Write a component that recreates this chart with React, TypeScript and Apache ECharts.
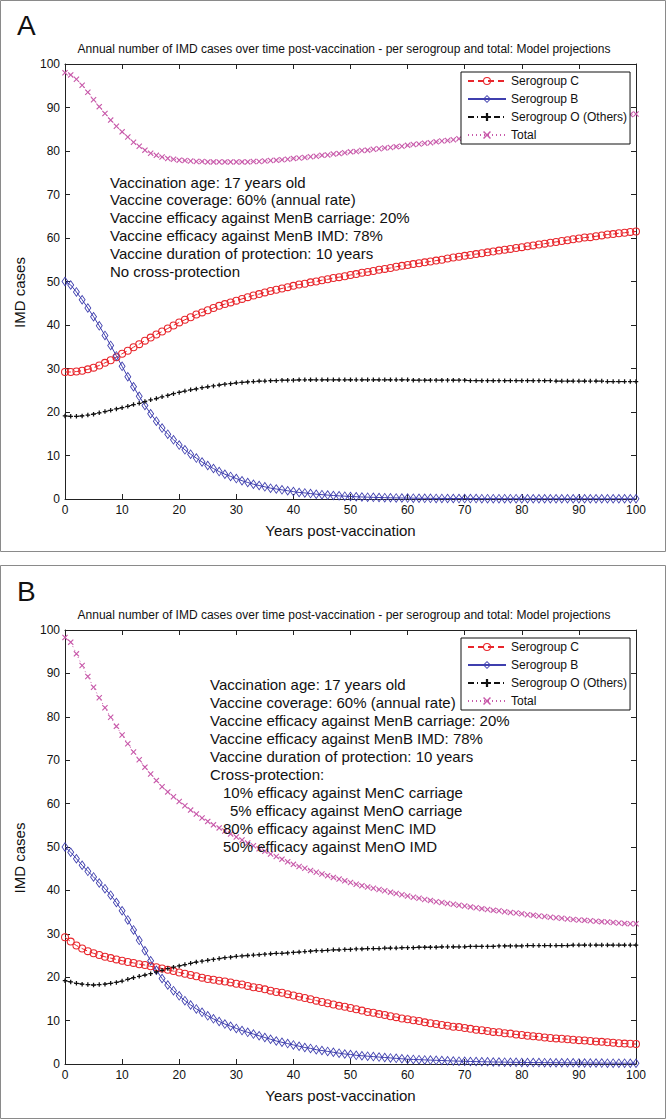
import React, { useEffect, useRef } from "react";
import * as echarts from "echarts";

const FONT = '"Liberation Sans", Arial, Helvetica, sans-serif';

const years = [
  0, 1, 2, 3, 4, 5, 6, 7, 8, 9, 10, 11, 12, 13, 14, 15, 16, 17, 18, 19, 20,
  21, 22, 23, 24, 25, 26, 27, 28, 29, 30, 31, 32, 33, 34, 35, 36, 37, 38, 39, 40,
  41, 42, 43, 44, 45, 46, 47, 48, 49, 50, 51, 52, 53, 54, 55, 56, 57, 58, 59, 60,
  61, 62, 63, 64, 65, 66, 67, 68, 69, 70, 71, 72, 73, 74, 75, 76, 77, 78, 79, 80,
  81, 82, 83, 84, 85, 86, 87, 88, 89, 90, 91, 92, 93, 94, 95, 96, 97, 98, 99, 100,
];

const seriesNames = ["Serogroup C", "Serogroup B", "Serogroup O (Others)", "Total"];

// Panel A: no cross-protection
const aSerogroupC = [
  29.2, 29.2, 29.3, 29.5, 29.8, 30.2, 30.7, 31.3, 31.9, 32.6,
  33.4, 34.1, 34.9, 35.6, 36.4, 37.1, 37.8, 38.5, 39.2, 39.9,
  40.6, 41.2, 41.8, 42.4, 42.9, 43.4, 43.9, 44.4, 44.8, 45.2,
  45.6, 46.0, 46.4, 46.8, 47.1, 47.5, 47.8, 48.1, 48.4, 48.7,
  49.0, 49.3, 49.5, 49.8, 50.0, 50.3, 50.5, 50.8, 51.0, 51.2,
  51.5, 51.7, 52.0, 52.2, 52.4, 52.7, 52.9, 53.1, 53.4, 53.6,
  53.8, 54.0, 54.2, 54.4, 54.6, 54.8, 55.0, 55.3, 55.5, 55.7,
  55.9, 56.1, 56.3, 56.5, 56.7, 56.9, 57.1, 57.3, 57.5, 57.7,
  57.9, 58.1, 58.3, 58.5, 58.7, 58.9, 59.1, 59.3, 59.5, 59.7,
  59.9, 60.1, 60.2, 60.4, 60.6, 60.8, 60.9, 61.1, 61.2, 61.4,
  61.5,
];
const aSerogroupB = [
  50.0, 49.2, 47.6, 45.8, 43.9, 41.9, 39.8, 37.6, 35.3, 32.9,
  30.5, 28.1, 25.8, 23.6, 21.5, 19.6, 17.9, 16.3, 14.9, 13.6,
  12.4, 11.3, 10.3, 9.4, 8.5, 7.7, 7.0, 6.3, 5.7, 5.2,
  4.7, 4.2, 3.8, 3.4, 3.1, 2.8, 2.5, 2.3, 2.1, 1.9,
  1.7, 1.5, 1.4, 1.25, 1.1, 1.0, 0.9, 0.8, 0.72, 0.65,
  0.58, 0.52, 0.47, 0.42, 0.38, 0.34, 0.31, 0.28, 0.25, 0.23,
  0.21, 0.19, 0.17, 0.16, 0.15, 0.14, 0.13, 0.12, 0.11, 0.1,
  0.1, 0.09, 0.09, 0.08, 0.08, 0.08, 0.07, 0.07, 0.07, 0.07,
  0.06, 0.06, 0.06, 0.06, 0.06, 0.06, 0.06, 0.06, 0.06, 0.06,
  0.06, 0.06, 0.06, 0.05, 0.05, 0.05, 0.05, 0.05, 0.05, 0.05,
  0.05,
];
const aSerogroupO = [
  19.1, 19.0, 19.0, 19.1, 19.3, 19.5, 19.8, 20.1, 20.4, 20.7,
  21.0, 21.3, 21.7, 22.0, 22.4, 22.8, 23.1, 23.5, 23.8, 24.2,
  24.5, 24.8, 25.1, 25.3, 25.6, 25.8, 26.0, 26.2, 26.4, 26.5,
  26.7, 26.8, 26.9, 27.0, 27.1, 27.1, 27.2, 27.2, 27.3, 27.3,
  27.3, 27.4, 27.4, 27.4, 27.4, 27.4, 27.4, 27.4, 27.4, 27.4,
  27.4, 27.4, 27.4, 27.4, 27.4, 27.4, 27.4, 27.4, 27.4, 27.4,
  27.4, 27.3, 27.3, 27.3, 27.3, 27.3, 27.3, 27.3, 27.3, 27.3,
  27.3, 27.2, 27.2, 27.2, 27.2, 27.2, 27.2, 27.2, 27.2, 27.2,
  27.2, 27.2, 27.2, 27.2, 27.2, 27.2, 27.1, 27.1, 27.1, 27.1,
  27.1, 27.1, 27.1, 27.1, 27.1, 27.0, 27.0, 27.0, 27.0, 27.0,
  27.0,
];
const aTotal = [
  98.0, 97.5, 96.5, 95.1, 93.5, 91.8, 90.2, 88.6, 87.1, 85.7,
  84.4, 83.2, 82.0, 81.1, 80.2, 79.5, 79.0, 78.6, 78.3, 78.1,
  77.9, 77.8, 77.7, 77.6, 77.6, 77.5, 77.5, 77.5, 77.5, 77.5,
  77.5, 77.5, 77.5, 77.6, 77.6, 77.7, 77.8, 77.9, 78.0, 78.1,
  78.3, 78.4, 78.5, 78.7, 78.8, 79.0, 79.1, 79.3, 79.4, 79.6,
  79.8, 79.9, 80.1, 80.2, 80.4, 80.5, 80.7, 80.8, 81.0, 81.1,
  81.3, 81.5, 81.6, 81.8, 81.9, 82.1, 82.3, 82.4, 82.6, 82.8,
  82.9, 83.1, 83.3, 83.4, 83.6, 83.8, 84.0, 84.1, 84.3, 84.5,
  84.6, 84.8, 85.0, 85.2, 85.4, 85.6, 85.8, 86.0, 86.2, 86.4,
  86.6, 86.8, 87.0, 87.2, 87.4, 87.6, 87.8, 88.0, 88.2, 88.4,
  88.5,
];

// Panel B: with cross-protection
const bSerogroupC = [
  29.2, 28.2, 27.3, 26.6, 26.0, 25.5, 25.1, 24.7, 24.4, 24.1,
  23.8, 23.5, 23.3, 23.0, 22.8, 22.5, 22.3, 22.0, 21.7, 21.4,
  21.1, 20.8, 20.5, 20.2, 19.9, 19.6, 19.4, 19.2, 19.0, 18.8,
  18.5, 18.3, 18.0, 17.7, 17.5, 17.2, 16.9, 16.6, 16.4, 16.1,
  15.8, 15.5, 15.2, 14.9, 14.6, 14.3, 14.0, 13.7, 13.4, 13.2,
  12.9, 12.6, 12.3, 12.0, 11.8, 11.5, 11.3, 11.0, 10.8, 10.5,
  10.3, 10.1, 9.9, 9.6, 9.4, 9.2, 9.0, 8.8, 8.6, 8.5,
  8.3, 8.1, 7.9, 7.8, 7.6, 7.4, 7.3, 7.1, 7.0, 6.8,
  6.7, 6.5, 6.4, 6.3, 6.1, 6.0, 5.9, 5.8, 5.7, 5.6,
  5.5, 5.4, 5.3, 5.2, 5.1, 5.0, 4.9, 4.8, 4.7, 4.65,
  4.6,
];
const bSerogroupB = [
  50.0, 48.8, 47.3, 45.8, 44.4, 43.1, 41.7, 40.4, 38.9, 37.2,
  35.3, 33.2, 30.9, 28.5, 26.1, 23.8, 21.6, 19.7, 18.2, 16.9,
  15.7, 14.6, 13.6, 12.7, 11.9, 11.1, 10.4, 9.8, 9.2, 8.7,
  8.2, 7.7, 7.3, 6.9, 6.5, 6.1, 5.7, 5.3, 5.0, 4.7,
  4.4, 4.1, 3.8, 3.6, 3.3, 3.1, 2.9, 2.7, 2.5, 2.3,
  2.2, 2.0, 1.9, 1.8, 1.7, 1.6, 1.5, 1.4, 1.3, 1.2,
  1.1, 1.05, 1.0, 0.95, 0.9, 0.85, 0.8, 0.75, 0.7, 0.66,
  0.62, 0.58, 0.55, 0.52, 0.49, 0.46, 0.44, 0.42, 0.4, 0.38,
  0.36, 0.34, 0.33, 0.32, 0.31, 0.3, 0.29, 0.28, 0.27, 0.26,
  0.25, 0.24, 0.23, 0.22, 0.21, 0.2, 0.2, 0.19, 0.19, 0.18,
  0.18,
];
const bSerogroupO = [
  19.2, 18.9, 18.6, 18.4, 18.3, 18.2, 18.3, 18.4, 18.6, 18.8,
  19.1, 19.5, 19.9, 20.2, 20.5, 20.8, 21.2, 21.6, 22.0, 22.3,
  22.6, 22.9, 23.2, 23.5, 23.7, 23.9, 24.1, 24.3, 24.5, 24.6,
  24.8, 24.9, 25.0, 25.1, 25.2, 25.3, 25.4, 25.5, 25.5, 25.6,
  25.7, 25.8, 25.9, 26.0, 26.1, 26.1, 26.2, 26.3, 26.3, 26.4,
  26.4, 26.5, 26.5, 26.6, 26.6, 26.6, 26.7, 26.7, 26.7, 26.8,
  26.8, 26.8, 26.9, 26.9, 26.9, 26.9, 27.0, 27.0, 27.0, 27.0,
  27.0, 27.1, 27.1, 27.1, 27.1, 27.1, 27.2, 27.2, 27.2, 27.2,
  27.2, 27.3, 27.3, 27.3, 27.3, 27.3, 27.3, 27.3, 27.3, 27.4,
  27.4, 27.4, 27.4, 27.4, 27.4, 27.4, 27.4, 27.4, 27.4, 27.4,
  27.4,
];
const bTotal = [
  98.3, 97.2, 94.5, 91.8, 89.3, 86.8, 84.4, 82.1, 79.9, 77.8,
  75.8, 73.8, 71.9, 70.1, 68.4, 66.8, 65.3, 63.9, 62.7, 61.6,
  60.5, 59.5, 58.5, 57.6, 56.7, 55.9, 55.1, 54.4, 53.7, 53.0,
  52.3, 51.6, 50.9, 50.3, 49.6, 49.0, 48.4, 47.8, 47.2, 46.6,
  46.0, 45.5, 45.1, 44.6, 44.2, 43.8, 43.4, 43.0, 42.6, 42.2,
  41.8, 41.4, 41.1, 40.8, 40.5, 40.2, 39.9, 39.6, 39.3, 39.0,
  38.7, 38.4, 38.2, 37.9, 37.7, 37.4, 37.2, 37.0, 36.8, 36.6,
  36.4, 36.2, 36.0, 35.8, 35.6, 35.4, 35.3, 35.1, 34.9, 34.8,
  34.6, 34.4, 34.3, 34.1, 34.0, 33.8, 33.7, 33.6, 33.4, 33.3,
  33.2, 33.1, 33.0, 32.9, 32.8, 32.7, 32.6, 32.5, 32.4, 32.3,
  32.3,
];

const chartTitle =
  "Annual number of IMD cases over time post-vaccination - per serogroup and total: Model projections";

const notesA = [
  "Vaccination age: 17 years old",
  "Vaccine coverage: 60% (annual rate)",
  "Vaccine efficacy against MenB carriage: 20%",
  "Vaccine efficacy against MenB IMD: 78%",
  "Vaccine duration of protection: 10 years",
  "No cross-protection",
];
const notesB = [
  "Vaccination age: 17 years old",
  "Vaccine coverage: 60% (annual rate)",
  "Vaccine efficacy against MenB carriage: 20%",
  "Vaccine efficacy against MenB IMD: 78%",
  "Vaccine duration of protection: 10 years",
  "Cross-protection:",
  "10% efficacy against MenC carriage",
  "5% efficacy against MenO carriage",
  "80% efficacy against MenC IMD",
  "50% efficacy against MenO IMD",
];
const notesBIndent = [0, 0, 0, 0, 0, 0, 13, 20, 13, 13];

const RING =
  "path://M0,5A5,5,0,1,1,10,5A5,5,0,1,1,0,5ZM1.3,5A3.7,3.7,0,1,0,8.7,5A3.7,3.7,0,1,0,1.3,5Z";
const DIAMOND = "path://M5,0L10,7L5,14L0,7ZM5,2L1.5,7L5,12L8.5,7Z";
const CROSS =
  "path://M0,1.3L1.3,0L5,3.7L8.7,0L10,1.3L6.3,5L10,8.7L8.7,10L5,6.3L1.3,10L0,8.7L3.7,5Z";
const PLUS = "path://M3.6,0H6.4V3.6H10V6.4H6.4V10H3.6V6.4H0V3.6H3.6Z";

const RED = "#e8262c";
const BLUE = "#3f3fae";
const BLACK = "#111111";
const MAGENTA = "#c85aaa";

function pairs(vals: number[]) {
  return years.map((y, i) => [y, vals[i]]);
}

function buildSeries(g: number, c: number[], b: number[], o: number[], t: number[]) {
  const common = {
    type: "line",
    xAxisIndex: g * 2,
    yAxisIndex: g * 2,
    showSymbol: true,
    showAllSymbol: true,
    silent: true,
  };
  return [
    {
      ...common,
      name: seriesNames[0],
      data: pairs(c),
      symbol: RING,
      symbolSize: 8,
      itemStyle: { color: RED },
      lineStyle: { color: RED, width: 1, type: [6, 4] },
    },
    {
      ...common,
      name: seriesNames[1],
      data: pairs(b),
      symbol: DIAMOND,
      symbolSize: [7, 10],
      itemStyle: { color: BLUE },
      lineStyle: { color: BLUE, width: 1 },
    },
    {
      ...common,
      name: seriesNames[2],
      data: pairs(o),
      symbol: PLUS,
      symbolSize: 4.5,
      itemStyle: { color: BLACK },
      lineStyle: { color: BLACK, width: 1, type: [6, 3, 1, 3] },
    },
    {
      ...common,
      name: seriesNames[3],
      data: pairs(t),
      symbol: CROSS,
      symbolSize: 6,
      itemStyle: { color: MAGENTA },
      lineStyle: { color: MAGENTA, width: 1, type: [1, 3] },
    },
  ];
}

function buildAxes(g: number) {
  const line = { show: true, onZero: false, lineStyle: { color: "#222", width: 1 } };
  const tick = { show: true, inside: true, length: 5, lineStyle: { color: "#222", width: 1 } };
  const label = { show: true, color: "#111", fontSize: 12, fontFamily: FONT, margin: 5 };
  const nameStyle = { fontSize: 15, color: "#111", fontFamily: FONT };
  const base = { gridIndex: g, type: "value", min: 0, max: 100, interval: 10, splitLine: { show: false } };
  const xAxes = [
    {
      ...base,
      position: "bottom",
      axisLine: line,
      axisTick: tick,
      axisLabel: label,
      name: "Years post-vaccination",
      nameLocation: "middle",
      nameGap: 24,
      nameTextStyle: { ...nameStyle, padding: [0, 20, 0, 0] },
    },
    { ...base, position: "top", axisLine: line, axisTick: tick, axisLabel: { show: false } },
  ];
  const yAxes = [
    {
      ...base,
      position: "left",
      axisLine: line,
      axisTick: tick,
      axisLabel: label,
      name: "IMD cases",
      nameLocation: "middle",
      nameRotate: 90,
      nameGap: 38,
      nameTextStyle: { ...nameStyle, padding: [0, 22, 0, 0] },
    },
    { ...base, position: "right", axisLine: line, axisTick: tick, axisLabel: { show: false } },
  ];
  return { xAxes, yAxes };
}

function buildLegend(top: number) {
  return {
    orient: "vertical",
    left: 461,
    top,
    data: seriesNames,
    selectedMode: false,
    backgroundColor: "#ffffff",
    borderColor: "#111",
    borderWidth: 1,
    borderRadius: 0,
    padding: [2, 3, 2, 6],
    itemWidth: 38,
    itemHeight: 10,
    itemGap: 4,
    textStyle: { fontSize: 12, fontFamily: FONT, color: "#111", lineHeight: 14 },
    z: 10,
  };
}

function noteTexts(lines: string[], x: number, y0: number, step: number, indents: number[]) {
  return lines.map((t, i) => ({
    type: "text",
    x: x + (indents[i] || 0),
    y: y0 + i * step,
    silent: true,
    z: 20,
    style: {
      text: t,
      fill: "#111",
      font: `15px ${FONT}`,
      textAlign: "left",
      textVerticalAlign: "middle",
    },
  }));
}

export default function App() {
  const ref = useRef<HTMLDivElement>(null);

  useEffect(() => {
    document.body.style.margin = "0";
    if (!ref.current) return;
    const chart = echarts.init(ref.current, null, { renderer: "svg" });
    const A = buildAxes(0);
    const B = buildAxes(1);
    const offB = 566;

    const option: any = {
      animation: false,
      backgroundColor: "#ffffff",
      grid: [
        { left: 65, top: 64, width: 571, height: 435 },
        { left: 65, top: 64 + offB, width: 571, height: 434 },
      ],
      xAxis: [...A.xAxes, ...B.xAxes],
      yAxis: [...A.yAxes, ...B.yAxes],
      legend: [buildLegend(72), buildLegend(72 + offB)],
      series: [
        ...buildSeries(0, aSerogroupC, aSerogroupB, aSerogroupO, aTotal),
        ...buildSeries(1, bSerogroupC, bSerogroupB, bSerogroupO, bTotal),
      ],
      graphic: [
        {
          type: "rect",
          silent: true,
          z: -1,
          shape: { x: 0.5, y: 0.5, width: 665, height: 551 },
          style: { fill: "none", stroke: "#8a8a8a", lineWidth: 1 },
        },
        {
          type: "rect",
          silent: true,
          z: -1,
          shape: { x: 0.5, y: 565.5, width: 665, height: 553 },
          style: { fill: "none", stroke: "#8a8a8a", lineWidth: 1 },
        },
        {
          type: "text",
          x: 17,
          y: 25,
          silent: true,
          style: { text: "A", font: `28px ${FONT}`, fill: "#111", textAlign: "left", textVerticalAlign: "middle" },
        },
        {
          type: "text",
          x: 17,
          y: 25 + offB,
          silent: true,
          style: { text: "B", font: `28px ${FONT}`, fill: "#111", textAlign: "left", textVerticalAlign: "middle" },
        },
        {
          type: "text",
          x: 344,
          y: 49,
          silent: true,
          style: { text: chartTitle, font: `12px ${FONT}`, fill: "#111", textAlign: "center", textVerticalAlign: "middle" },
        },
        {
          type: "text",
          x: 344,
          y: 49 + offB,
          silent: true,
          style: { text: chartTitle, font: `12px ${FONT}`, fill: "#111", textAlign: "center", textVerticalAlign: "middle" },
        },
        ...noteTexts(notesA, 110, 182, 17.9, []),
        ...noteTexts(notesB, 210, 684, 18.1, notesBIndent),
      ],
    };
    chart.setOption(option);
    return () => chart.dispose();
  }, []);

  return <div ref={ref} style={{ width: 667, height: 1120 }} />;
}
